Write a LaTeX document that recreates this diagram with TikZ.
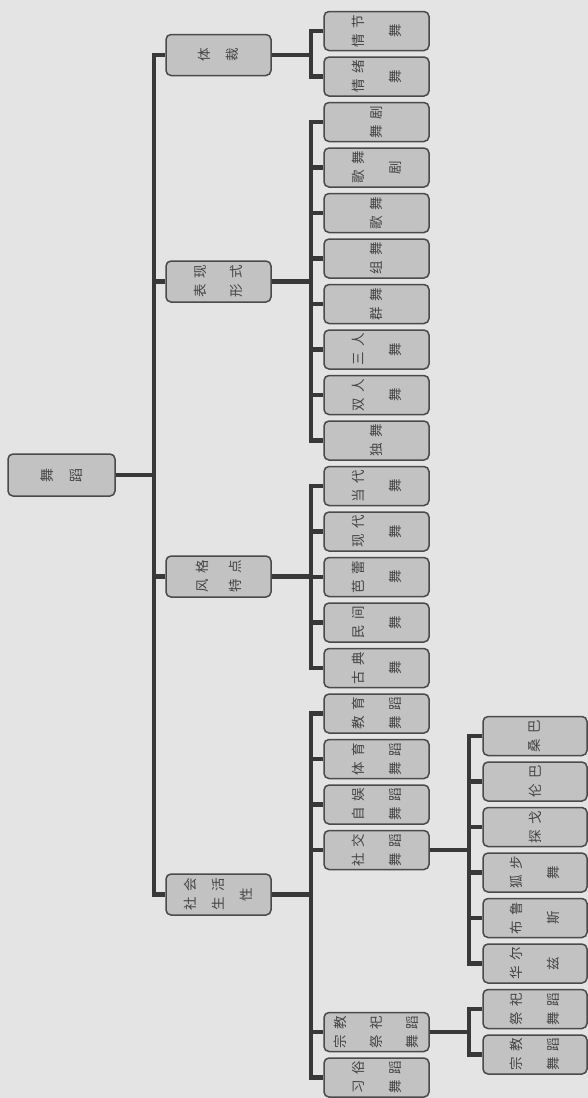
\documentclass[tikz,border=0pt]{standalone}
\usepackage{fontspec}
\usepackage{xcolor}
\newfontfamily\cjk[LetterSpace=38]{Noto Sans CJK SC}
\definecolor{paper}{HTML}{E4E4E4}
\definecolor{boxfill}{HTML}{C2C2C2}
\definecolor{boxline}{HTML}{4A4A4A}
\definecolor{linkgray}{HTML}{383838}
\definecolor{inkgray}{HTML}{444444}
\tikzset{
  % boxes are turned a quarter: north faces left, south faces right
  dance box/.style={
    rectangle,
    rounded corners=5pt,
    rotate=90,
    line width=1.5pt,
    draw=boxline,
    fill=boxfill,
    text=inkgray,
    align=center,
    inner sep=0pt,
    minimum width=39pt,
    minimum height=105pt,
    font=\cjk\fontsize{13.5}{37}\selectfont,
  },
  dance root/.style={dance box, minimum width=42pt, minimum height=107pt,
    font=\cjk\fontsize{14}{29}\selectfont},
  dance kind/.style={dance box, minimum width=41pt,
    font=\cjk\fontsize{13.5}{28}\selectfont},
  dance link/.style={line width=4.5pt, draw=linkgray},
}

\begin{document}
\begin{tikzpicture}[x=1pt,y=-1pt]
  \fill[paper] (0,0) rectangle (588,1098);
  \useasboundingbox (0,0) rectangle (588,1098);

  \node[dance root] (dance) at (61.5,475) {舞\\蹈};
  \node[dance kind] (ticai) at (218.5,55) {体\\裁};
  \node[dance kind,font=\cjk\fontsize{13.5}{36}\selectfont] (biaoxian) at (218.5,281.5) {表现\\形式};
  \node[dance kind,font=\cjk\fontsize{13.5}{33}\selectfont] (fengge) at (218.5,576.5) {风格\\特点};
  \node[dance kind] (shehui) at (218.5,894.5) {社会\\生活\\性};

  % third column
  \foreach \name/\txt [count=\i from 0] in {
      qingjie/{情节\\舞}, qingxu/{情绪\\舞},
      wuju/{舞剧}, gewuju/{歌舞\\剧}, gewu/{歌舞}, zuwu/{组舞}, qunwu/{群舞},
      sanren/{三人\\舞}, shuangren/{双人\\舞}, duwu/{独舞},
      dangdai/{当代\\舞}, xiandai/{现代\\舞}, balei/{芭蕾\\舞}, minjian/{民间\\舞}, gudian/{古典\\舞},
      jiaoyu/{教育\\舞蹈}, tiyu/{体育\\舞蹈}, ziyu/{自娱\\舞蹈}, shejiao/{社交\\舞蹈}}
    \node[dance box] (\name) at (376.5,31+45.5*\i) {\txt};
  \node[dance box,font=\cjk\fontsize{13.5}{36}\selectfont] (zongjiao) at (376.5,1032) {宗教\\祭祀\\舞蹈};
  \node[dance box] (xisu) at (376.5,1077.5) {习俗\\舞蹈};

  % fourth column
  \foreach \name/\txt [count=\i from 0] in {
      sangba/{桑巴}, lunba/{伦巴}, tange/{探戈}, hubu/{狐步\\舞}, bulusi/{布鲁\\斯}, huaerzi/{华尔\\兹},
      jisiwd/{祭祀\\舞蹈}, zongjiaowd/{宗教\\舞蹈}}
    \node[dance box,minimum height=104pt] (\name) at (535,736+45.5*\i) {\txt};

  \foreach \c in {ticai,biaoxian,fengge,shehui}
    \draw[dance link] (dance.south) -- ++(38,0) |- (\c.north);
  \foreach \c in {qingjie,qingxu}
    \draw[dance link] (ticai.south) -- ++(39,0) |- (\c.north);
  \foreach \c in {wuju,gewuju,gewu,zuwu,qunwu,sanren,shuangren,duwu}
    \draw[dance link] (biaoxian.south) -- ++(39,0) |- (\c.north);
  \foreach \c in {dangdai,xiandai,balei,minjian,gudian}
    \draw[dance link] (fengge.south) -- ++(39,0) |- (\c.north);
  \foreach \c in {jiaoyu,tiyu,ziyu,shejiao,zongjiao,xisu}
    \draw[dance link] (shehui.south) -- ++(39,0) |- (\c.north);
  \foreach \c in {sangba,lunba,tange,hubu,bulusi,huaerzi}
    \draw[dance link] (shejiao.south) -- ++(39,0) |- (\c.north);
  \foreach \c in {jisiwd,zongjiaowd}
    \draw[dance link] (zongjiao.south) -- ++(39,0) |- (\c.north);
\end{tikzpicture}
\end{document}
